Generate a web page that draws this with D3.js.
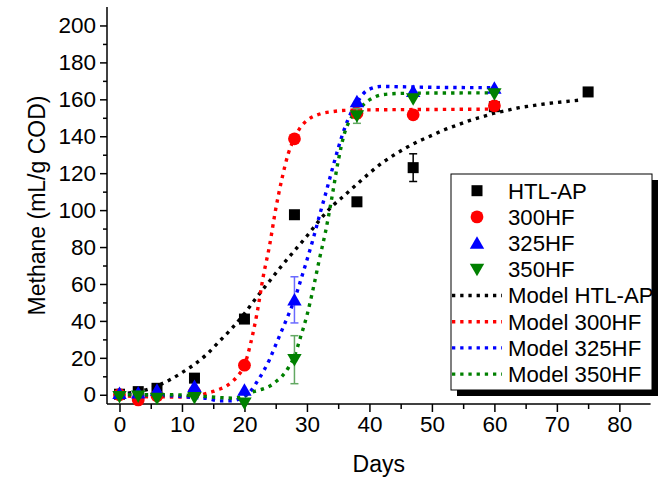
<!DOCTYPE html>
<html><head><meta charset="utf-8">
<script src="https://cdn.jsdelivr.net/npm/d3@7"></script>
<style>body{margin:0;background:#fff}svg{display:block}text{font-family:"Liberation Sans",Arial,sans-serif;fill:#000}</style>
</head><body><svg id="c" width="669" height="478"></svg>
<script>
// ---- data ----
const days = [0, 3, 6, 12, 20, 28, 38, 47, 60];
const daysHTL = [0, 3, 6, 12, 20, 28, 38, 47, 60, 75];
const htlAP = [0.3, 1.7, 3.5, 9, 41, 97.5, 104.5, 123, 156, 164];
const htlAPErr = [0, 0, 0, 0, 0, 0, 0, 7.5, 0, 0];
const hf300 = [0, -2.8, -0.5, 1.5, 16, 138.6, 152.5, 151.6, 156.5];
const hf300Err = [0, 0, 0, 0, 0, 0, 2.5, 0, 0];
const hf325 = [0.8, 1, 2.5, 4.5, 2.5, 51.4, 158.8, 164.3, 166];
const hf325Err = [0, 0, 0, 0, 0, 12.5, 0, 0, 0];
const hf350 = [-1, -0.7, -2, -1.5, -4.5, 19, 151, 160.3, 163];
const hf350Err = [0, 0, 0, 0, 0, 13, 4, 0, 0];

const modelHTLDays = [0,2,4,6,8,10,12,14,16,18,20,22,24,26,28,30,32,34,36,38,40,42,44,46,48,50,52,54,56,58,60,62,64,66,68,70,72,74];
const modelHTL = [0.5,1.2,2.5,4.8,8,12,16.5,22,29,36,44,53,61.5,70,78,86,94.5,102,108,114,120,125.5,130,134,137.5,140.5,143.5,146,148.5,150.5,152.5,154,155.5,156.5,157.5,158.3,159,159.7];
const model300Days = [0,4,8,10,12,13,14,15,16,17,18,19,20,21,22,23,24,25,26,27,28,29,30,32,34,36,40,50,60];
const model300 = [-0.5,-1,-1.2,-1.3,-1,-0.2,0.8,1.8,3,4.5,7,10.5,16,28,44,64,80.5,100.5,117,130.5,139,145,148.5,152,153.3,154,154.3,154.5,154.7];
const model325Days = [0,4,8,12,14,16,18,19,20,21,22,23,24,25,26,27,28,29,30,31,32,33,34,35,36,37,38,39,40,42,45,50,60];
const model325 = [0.3,0,-0.5,-1.5,-2,-3.3,-3.2,-2.5,-1,2,7,12.5,19,27,35,43,51.5,62,73,84.5,97,109,121.5,133.5,144,152.3,158,163,165.5,167,166.8,166.5,166.3];
const model350Days = [0,4,8,12,14,16,18,19,20,21,22,23,24,25,26,27,28,29,30,31,32,33,34,35,36,37,38,39,40,41,42,45,50,60];
const model350 = [0,0,0,-0.5,-1,-1.5,-1.8,-1.5,-0.5,1.2,2.2,3.2,4.6,7,10,14.5,21,31.5,43,57.5,73.5,88.7,107,126.5,141.5,149.5,154,157,159.7,161.5,162.5,163.2,163.4,163.5];

const xTicks = [0, 10, 20, 30, 40, 50, 60, 70, 80];
const yTicks = [0, 20, 40, 60, 80, 100, 120, 140, 160, 180, 200];
const xTitle = "Days";
const yTitle = "Methane (mL/g COD)";

// ---- setup ----
const svg = d3.select("#c");
const x = d3.scaleLinear().domain([-2, 85]).range([107, 650.6]);
const y = d3.scaleLinear().domain([-5, 210]).range([404, 7]);
const FONT = 22.5;
const LFONT = 22.2;
const DASH = "3.4,5";

const series = [
  {name:"HTL-AP", d:daysHTL, v:htlAP, e:htlAPErr, color:"#000000", ecolor:"#000000", shape:"square"},
  {name:"300HF", d:days, v:hf300, e:hf300Err, color:"#ff0000", ecolor:"#ff0000", shape:"circle"},
  {name:"325HF", d:days, v:hf325, e:hf325Err, color:"#0000ff", ecolor:"#6a6aff", shape:"up"},
  {name:"350HF", d:days, v:hf350, e:hf350Err, color:"#008000", ecolor:"#62a862", shape:"down"}
];
const models = [
  {name:"Model HTL-AP", d:modelHTLDays, v:modelHTL, color:"#000000"},
  {name:"Model 300HF", d:model300Days, v:model300, color:"#ff0000"},
  {name:"Model 325HF", d:model325Days, v:model325, color:"#0000ff"},
  {name:"Model 350HF", d:model350Days, v:model350, color:"#008000"}
];

function marker(g, shape, cx, cy, color) {
  if (shape === "square") {
    g.append("rect").attr("x", cx-5.5).attr("y", cy-5.5).attr("width", 11).attr("height", 11).attr("fill", color);
  } else if (shape === "circle") {
    g.append("circle").attr("cx", cx).attr("cy", cy).attr("r", 6.4).attr("fill", color);
  } else {
    const s = shape === "up" ? 1 : -1;
    const h = 12.5, w = 7.2;
    g.append("path").attr("d", `M${cx},${cy - s*h*0.55}L${cx+w},${cy + s*h*0.45}L${cx-w},${cy + s*h*0.45}Z`).attr("fill", color);
  }
}

// ---- axes ----
const xAxis = d3.axisBottom(x).tickValues(xTicks).tickSize(8).tickPadding(4);
const gx = svg.append("g").attr("transform", "translate(0,404)").call(xAxis);
gx.select(".domain").attr("d", `M${x.range()[0]},0H${x.range()[1]}`);
const xMinor = d3.axisBottom(x).tickValues(d3.range(5, 85, 10)).tickSize(5).tickFormat("");
const gxm = svg.append("g").attr("transform", "translate(0,404)").call(xMinor);
gxm.select(".domain").remove();

const yAxis = d3.axisLeft(y).tickValues(yTicks).tickSize(7).tickPadding(4);
const gy = svg.append("g").attr("transform", "translate(107,0)").call(yAxis);
gy.select(".domain").attr("d", `M0,${y.range()[0]}V${y.range()[1]}`);
const yMinor = d3.axisLeft(y).tickValues(d3.range(10, 210, 20)).tickSize(4).tickFormat("");
const gym = svg.append("g").attr("transform", "translate(107,0)").call(yMinor);
gym.select(".domain").remove();

svg.selectAll(".domain").attr("stroke", "#000").attr("stroke-width", 1.5);
svg.selectAll(".tick line").attr("stroke", "#000").attr("stroke-width", 1.5);
svg.selectAll(".tick text").attr("font-size", FONT).attr("font-family", '"Liberation Sans",Arial,sans-serif').attr("fill", "#000");

svg.append("text").attr("x", (x.range()[0]+x.range()[1])/2).attr("y", 472).attr("text-anchor", "middle").attr("font-size", 23).text(xTitle);
svg.append("text").attr("transform", `translate(45,${(y.range()[0]+y.range()[1])/2}) rotate(-90)`).attr("text-anchor", "middle").attr("font-size", 23).text(yTitle);

// ---- model lines ----
const line = d3.line().x(d => x(d[0])).y(d => y(d[1])).curve(d3.curveMonotoneX);
models.forEach(m => {
  svg.append("path").datum(m.d.map((t, i) => [t, m.v[i]]))
    .attr("d", line).attr("fill", "none").attr("stroke", m.color)
    .attr("stroke-width", 3.4).attr("stroke-dasharray", DASH);
});

// ---- error bars + markers ----
series.forEach(s => {
  const g = svg.append("g");
  s.d.forEach((t, i) => {
    if (s.e[i] > 0) {
      const cx = x(t), y0 = y(s.v[i] - s.e[i]), y1 = y(s.v[i] + s.e[i]);
      g.append("line").attr("x1", cx).attr("x2", cx).attr("y1", y0).attr("y2", y1).attr("stroke", s.ecolor).attr("stroke-width", 1.5);
      [y0, y1].forEach(yy => g.append("line").attr("x1", cx-4).attr("x2", cx+4).attr("y1", yy).attr("y2", yy).attr("stroke", s.ecolor).attr("stroke-width", 1.5));
    }
  });
  s.d.forEach((t, i) => marker(g, s.shape, x(t), y(s.v[i]), s.color));
});

// ---- legend ----
const L = {x: 451, y: 174, w: 201, h: 216};
svg.append("rect").attr("x", L.x+6).attr("y", L.y+6).attr("width", L.w).attr("height", L.h).attr("fill", "#000");
svg.append("rect").attr("x", L.x).attr("y", L.y).attr("width", L.w).attr("height", L.h).attr("fill", "#fff").attr("stroke", "#000").attr("stroke-width", 1);
const rowY = i => 190.7 + i*26.2;
series.forEach((s, i) => {
  const g = svg.append("g");
  marker(g, s.shape, 477, rowY(i), s.color);
  svg.append("text").attr("x", 508).attr("y", rowY(i)).attr("dy", "0.36em").attr("font-size", LFONT).text(s.name);
});
models.forEach((m, j) => {
  const i = j + 4;
  svg.append("line").attr("x1", 452).attr("x2", 502).attr("y1", rowY(i)).attr("y2", rowY(i))
    .attr("stroke", m.color).attr("stroke-width", 3.4).attr("stroke-dasharray", "3.3,4.9");
  svg.append("text").attr("x", 508).attr("y", rowY(i)).attr("dy", "0.36em").attr("font-size", LFONT).text(m.name);
});
</script></body></html>
